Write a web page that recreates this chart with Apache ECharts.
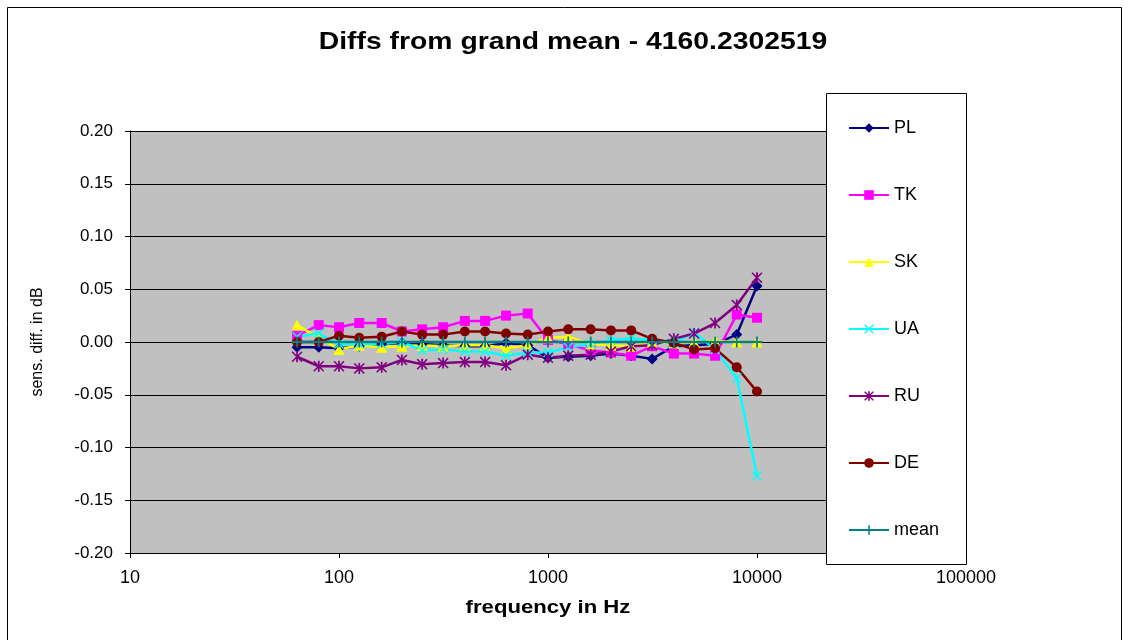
<!DOCTYPE html>
<html>
<head>
<meta charset="utf-8">
<title>Diffs from grand mean</title>
<script src="https://cdn.jsdelivr.net/npm/echarts@6/dist/echarts.min.js"></script>
<style>
  html, body { margin: 0; padding: 0; background: #fff; }
  #chart { width: 1131px; height: 640px; }
</style>
</head>
<body>
<div id="chart"></div>
<script>
// One-third-octave frequencies (Hz)
const freqs = [63, 80, 100, 125, 160, 200, 250, 315, 400, 500, 630, 800,
               1000, 1250, 1600, 2000, 2500, 3150, 4000, 5000, 6300, 8000, 10000];

// Sensitivity differences from the grand mean, in dB
const PL = [-0.005, -0.005, -0.006, -0.004, -0.002, -0.001, -0.002, -0.003, -0.004, -0.004, -0.001, -0.003,
            -0.015, -0.014, -0.013, -0.011, -0.013, -0.016, -0.004, -0.003, -0.002, 0.007, 0.053];
const TK = [0.006, 0.016, 0.014, 0.018, 0.018, 0.010, 0.012, 0.014, 0.020, 0.020, 0.025, 0.027,
            0.002, -0.002, -0.008, -0.010, -0.013, -0.004, -0.011, -0.011, -0.013, 0.026, 0.023];
const SK = [0.016, 0.004, -0.007, -0.003, -0.005, -0.004, -0.003, -0.004, -0.003, -0.003, -0.006, -0.003,
            0.004, 0.005, -0.002, -0.003, -0.004, 0.000, -0.001, 0.000, 0.001, 0.000, 0.000];
const UA = [0.005, 0.008, -0.002, -0.002, -0.002, 0.000, -0.008, -0.007, -0.009, -0.009, -0.013, -0.010,
            -0.010, -0.005, -0.002, 0.002, 0.003, 0.002, -0.001, 0.009, -0.007, -0.034, -0.127];
const RU = [-0.014, -0.023, -0.023, -0.025, -0.024, -0.017, -0.021, -0.020, -0.019, -0.019, -0.022, -0.012,
            -0.015, -0.013, -0.012, -0.009, -0.004, -0.003, 0.003, 0.008, 0.018, 0.035, 0.061];
const DE = [0.000, 0.000, 0.006, 0.004, 0.005, 0.010, 0.007, 0.007, 0.010, 0.010, 0.008, 0.007,
            0.010, 0.012, 0.012, 0.011, 0.011, 0.003, -0.001, -0.007, -0.006, -0.024, -0.047];
const MEAN = [0, 0, 0, 0, 0, 0, 0, 0, 0, 0, 0, 0,
              0, 0, 0, 0, 0, 0, 0, 0, 0, 0, 0];

const titleText = 'Diffs from grand mean - 4160.2302519';
const xName = 'frequency in Hz';
const yName = 'sens. diff. in dB';

const FONT = '"Liberation Sans", Arial, sans-serif';

// Marker shapes
const X_MARK = 'path://M1,0L5,4L9,0L10,1L6,5L10,9L9,10L5,6L1,10L0,9L4,5L0,1Z';
const STAR_MARK = 'path://M1,0L5,4L9,0L10,1L6,5L10,9L9,10L5,6L1,10L0,9L4,5L0,1Z M4.2,0L5.8,0L5.8,10L4.2,10Z';
const PLUS_MARK = 'path://M4.2,0H5.8V4.2H10V5.8H5.8V10H4.2V5.8H0V4.2H4.2Z';

const seriesDefs = [
  { name: 'PL',   data: PL,   color: '#000080', symbol: 'diamond',  size: 11 },
  { name: 'TK',   data: TK,   color: '#FF00FF', symbol: 'rect',     size: 10 },
  { name: 'SK',   data: SK,   color: '#FFFF00', symbol: 'triangle', size: 11 },
  { name: 'UA',   data: UA,   color: '#00FFFF', symbol: X_MARK,     size: 10 },
  { name: 'RU',   data: RU,   color: '#800080', symbol: STAR_MARK,  size: 11 },
  { name: 'DE',   data: DE,   color: '#800000', symbol: 'circle',   size: 10 },
  { name: 'mean', data: MEAN, color: '#008080', symbol: PLUS_MARK,  size: 11 }
];

const chart = echarts.init(document.getElementById('chart'), null, { renderer: 'canvas' });

const option = {
  animation: false,
  backgroundColor: '#ffffff',
  textStyle: { fontFamily: FONT },
  grid: {
    left: 130, top: 131, width: 836, height: 422,
    show: true, backgroundColor: '#C0C0C0', borderWidth: 0,
    containLabel: false, outerBoundsMode: 'none'
  },
  xAxis: {
    type: 'log', logBase: 10, min: 10, max: 100000,
    axisLine: { show: true, onZero: false, lineStyle: { color: '#000', width: 1 } },
    axisTick: { show: true, inside: false, length: 5, lineStyle: { color: '#000' } },
    minorTick: { show: false },
    splitLine: { show: false },
    axisLabel: {
      margin: 16, fontSize: 18, color: '#000', fontFamily: FONT,
      formatter: v => String(Math.round(v))
    }
  },
  yAxis: {
    type: 'value', min: -0.2, max: 0.2, interval: 0.05,
    name: yName, nameLocation: 'middle', nameGap: 84, nameRotate: 90,
    nameTextStyle: { fontSize: 16, color: '#000', fontFamily: FONT },
    axisLine: { show: true, onZero: false, lineStyle: { color: '#000', width: 1 } },
    axisTick: { show: true, inside: false, length: 5, lineStyle: { color: '#000' } },
    splitLine: { show: true, lineStyle: { color: '#000', width: 1 } },
    axisLabel: {
      margin: 17, fontSize: 17, color: '#000', fontFamily: FONT,
      formatter: v => v.toFixed(2)
    }
  },
  legend: {
    orient: 'vertical', left: 843, top: 114,
    itemWidth: 40, itemHeight: 12, itemGap: 49,
    z: 300,
    textStyle: { fontSize: 18, lineHeight: 18, color: '#000', fontFamily: FONT },
    data: seriesDefs.map(s => s.name)
  },
  graphic: [
    { type: 'rect', z: 0, silent: true,
      shape: { x: 7.5, y: 7.5, width: 1114, height: 660 },
      style: { fill: null, stroke: '#000', lineWidth: 1 } },
    { type: 'rect', z: 200, silent: true,
      shape: { x: 826.5, y: 93.5, width: 140, height: 471 },
      style: { fill: '#fff', stroke: '#000', lineWidth: 1 } },
    // chart title
    { type: 'text', z: 200, silent: true,
      x: 573, y: 42, scaleX: 1.18,
      style: { text: titleText, x: 0, y: 0, textAlign: 'center', textVerticalAlign: 'middle',
               font: 'bold 24px ' + FONT, fill: '#000' } },
    // x-axis title
    { type: 'text', z: 200, silent: true,
      x: 548, y: 608, scaleX: 1.23,
      style: { text: xName, x: 0, y: 0, textAlign: 'center', textVerticalAlign: 'middle',
               font: 'bold 18px ' + FONT, fill: '#000' } }
  ],
  series: seriesDefs.map(s => ({
    name: s.name,
    type: 'line',
    data: freqs.map((f, i) => [f, s.data[i]]),
    symbol: s.symbol,
    symbolSize: s.size,
    showAllSymbol: true,
    color: s.color,
    itemStyle: { color: s.color, borderWidth: 0 },
    lineStyle: { color: s.color, width: 2.5 },
    emphasis: { disabled: true }
  }))
};

chart.setOption(option);
</script>
</body>
</html>
